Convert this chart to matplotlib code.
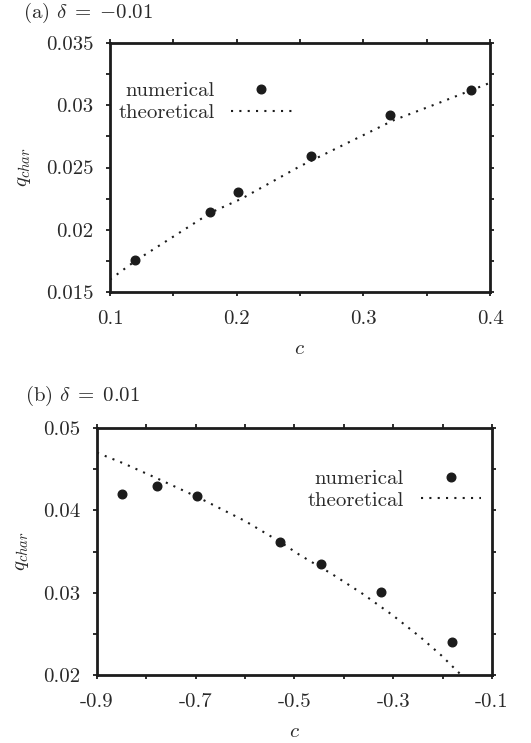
import matplotlib
matplotlib.use("agg")
import matplotlib.pyplot as plt
import numpy as np

plt.rcParams["font.family"] = "serif"
plt.rcParams["font.serif"] = ["cmr10"]
plt.rcParams["mathtext.fontset"] = "cm"
plt.rcParams["axes.unicode_minus"] = False

INK = "#1c1c1c"
TXT = "#2a2a2a"
FS = 15

# panel (a): delta = -0.01
c_num_a = [0.120, 0.179, 0.201, 0.259, 0.321, 0.385]
q_num_a = [0.0176, 0.0214, 0.0230, 0.0259, 0.0292, 0.0312]
c_th_a = [0.100, 0.120, 0.180, 0.204, 0.250, 0.300, 0.324, 0.360, 0.400]
q_th_a = [0.0160, 0.0175, 0.0214, 0.0225, 0.0251, 0.0276, 0.0288, 0.0302, 0.0318]

# panel (b): delta = 0.01
c_num_b = [-0.850, -0.778, -0.697, -0.530, -0.447, -0.325, -0.181]
q_num_b = [0.0420, 0.0430, 0.0418, 0.0362, 0.0335, 0.0301, 0.0240]
c_th_b = [-0.900, -0.846, -0.779, -0.696, -0.600, -0.530, -0.490, -0.425,
          -0.363, -0.302, -0.245, -0.203, -0.176, -0.164]
q_th_b = [0.0470, 0.0457, 0.0439, 0.0416, 0.0387, 0.0362, 0.0346, 0.0323,
          0.0299, 0.0273, 0.0246, 0.0224, 0.0208, 0.0201]

xticks_a = np.arange(0.10, 0.4001, 0.05)
xlabels_a = ["0.1", "", "0.2", "", "0.3", "", "0.4"]
yticks_a = np.arange(0.015, 0.03501, 0.0025)
ylabels_a = ["0.015", "", "0.02", "", "0.025", "", "0.03", "", "0.035"]

xticks_b = np.arange(-0.9, -0.0999, 0.1)
xlabels_b = ["-0.9", "", "-0.7", "", "-0.5", "", "-0.3", "", "-0.1"]
yticks_b = np.arange(0.02, 0.05001, 0.005)
ylabels_b = ["0.02", "", "0.03", "", "0.04", "", "0.05"]

W, H = 531, 743
fig = plt.figure(figsize=(W / 100, H / 100), dpi=100)


def px_axes(left, top, right, bottom):
    return fig.add_axes([left / W, 1 - bottom / H, (right - left) / W, (bottom - top) / H])


def style(ax, xt, xl, yt, yl, xlim, ylim):
    ax.set_xlim(*xlim)
    ax.set_ylim(*ylim)
    ax.set_xticks(xt)
    ax.set_xticklabels(xl)
    ax.set_yticks(yt)
    ax.set_yticklabels(yl)
    for s in ax.spines.values():
        s.set_linewidth(2.0)
        s.set_color(INK)
    ax.tick_params(direction="out", length=3, width=1.3, color=INK,
                   top=True, right=True, labelsize=FS, labelcolor=TXT)
    ax.tick_params(axis="y", pad=9)
    ax.tick_params(axis="x", pad=10)
    ax.set_xlabel("$c$", fontsize=FS, color=TXT, labelpad=9)
    ax.set_ylabel("$q_{char}$", fontsize=FS, color=TXT, labelpad=9)


def draw(ax, cn, qn, ct, qt, anchor):
    ax.plot(ct, qt, color=INK, lw=1.5, ls=(0, (1, 3)), dash_capstyle="butt",
            label="theoretical")
    ax.plot(cn, qn, "o", color=INK, ms=6.2, label="numerical")
    h, l = ax.get_legend_handles_labels()
    ax.legend(h[::-1], l[::-1], loc="center", bbox_to_anchor=anchor, frameon=False,
              markerfirst=False, handlelength=2.9, handletextpad=0.8,
              labelspacing=0.15, fontsize=FS, labelcolor=TXT, borderpad=0.2)


ax1 = px_axes(110, 43, 490, 292)
draw(ax1, c_num_a, q_num_a, c_th_a, q_th_a, (0.25, 0.763))
style(ax1, xticks_a, xlabels_a, yticks_a, ylabels_a, (0.1, 0.4), (0.015, 0.035))
fig.text(23 / W, 1 - 13 / H, r"(a) $\delta\;=\;{-}0.01$", fontsize=FS, color=TXT,
         ha="left", va="center")

ax2 = px_axes(97, 428, 492, 675)
draw(ax2, c_num_b, q_num_b, c_th_b, q_th_b, (0.753, 0.751))
style(ax2, xticks_b, xlabels_b, yticks_b, ylabels_b, (-0.9, -0.1), (0.02, 0.05))
fig.text(25 / W, 1 - 396 / H, r"(b) $\delta\;=\;0.01$", fontsize=FS, color=TXT,
         ha="left", va="center")

fig.savefig("out.png", dpi=100)
